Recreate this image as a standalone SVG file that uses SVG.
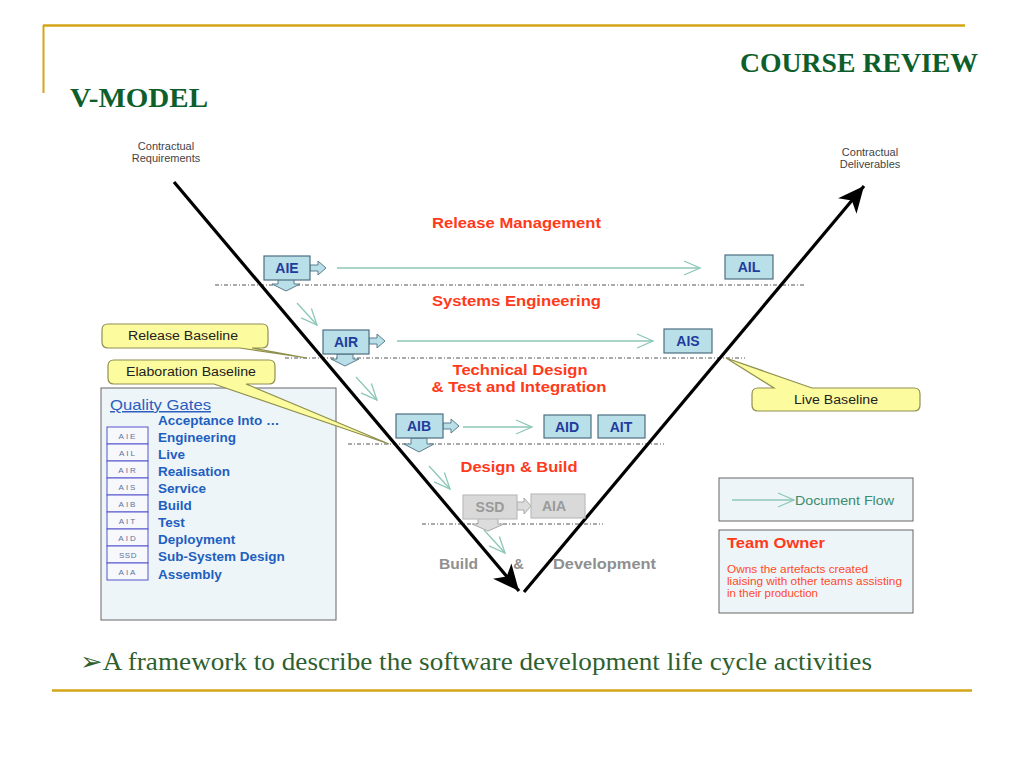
<svg xmlns="http://www.w3.org/2000/svg" width="1024" height="768" viewBox="0 0 1024 768">
<defs>
<style>
.hdr{font-family:"Liberation Serif",serif;font-weight:bold;font-size:27px;fill:#0e5e2c}
.sec{font-family:"Liberation Sans",Arial,sans-serif;font-weight:bold;font-size:14.5px;fill:#ff3a1a;text-anchor:middle}
.node rect.b{fill:#b9dfe9;stroke:#4d6f80;stroke-width:1.2}
.node text{font-family:"Liberation Sans",Arial,sans-serif;font-weight:bold;font-size:14px;fill:#1f3c9c;text-anchor:middle}
.grey rect.b{fill:#d9d9d9;stroke:#bdbdbd}
.grey text{fill:#9a9a9a}
.ba{fill:#b9dfe9;stroke:#5b7d8c;stroke-width:1}
.grey .ba{fill:#dcdcdc;stroke:#aaaaaa}
.flow{stroke:#8cc7b7;stroke-width:1.3;fill:none}
.small{font-family:"Liberation Sans",Arial,sans-serif;font-size:11px;fill:#444;text-anchor:middle}
.call{fill:#fcfc9e;stroke:#8f8f50;stroke-width:1.2}
.callt{font-family:"Liberation Sans",Arial,sans-serif;font-size:12.5px;fill:#222;text-anchor:middle}
.dash{stroke:#555;stroke-width:1;stroke-dasharray:4 2 1 2}
.qg{font-family:"Liberation Sans",Arial,sans-serif;font-weight:bold;font-size:13.5px;fill:#1e5fc0}
.ab rect{fill:#f6f8fb;stroke:#5555cc;stroke-width:1}
.ab text{font-family:"Liberation Sans",Arial,sans-serif;font-size:8px;fill:#6070a0;text-anchor:middle;letter-spacing:2px}
.red{font-family:"Liberation Sans",Arial,sans-serif;font-size:11px;fill:#ff4a2a}
</style>
<marker id="big" markerUnits="userSpaceOnUse" markerWidth="30" markerHeight="30" viewBox="0 0 30 30" refX="26" refY="15" orient="auto">
<path d="M0,3 L26,15 L0,27 L7,15 Z" fill="#000"/>
</marker>
<marker id="open" markerUnits="userSpaceOnUse" markerWidth="20" markerHeight="16" viewBox="0 0 20 16" refX="17" refY="8" orient="auto">
<path d="M1,1 L17,8 L1,15" fill="none" stroke="#8cc7b7" stroke-width="1.3"/>
</marker>
</defs>
<rect width="1024" height="768" fill="#fff"/>

<g id="header">
<line x1="43" y1="25.5" x2="965" y2="25.5" stroke="#d6a419" stroke-width="2.5"/>
<line x1="43.5" y1="25" x2="43.5" y2="93" stroke="#d6a419" stroke-width="2"/>
<text class="hdr" x="740" y="72" textLength="238" lengthAdjust="spacingAndGlyphs">COURSE REVIEW</text>
<text class="hdr" x="70" y="107" textLength="138" lengthAdjust="spacingAndGlyphs">V-MODEL</text>
</g>

<g id="dashes">
<line class="dash" x1="215" y1="285" x2="806" y2="285"/>
<line class="dash" x1="285" y1="358" x2="745" y2="358"/>
<line class="dash" x1="348" y1="444" x2="664" y2="444"/>
<line class="dash" x1="422" y1="524" x2="603" y2="524"/>
</g>

<g id="section-labels">
<text class="sec" x="516.5" y="228" textLength="169" lengthAdjust="spacingAndGlyphs">Release Management</text>
<text class="sec" x="516.5" y="306" textLength="169" lengthAdjust="spacingAndGlyphs">Systems Engineering</text>
<text class="sec" x="520" y="375" textLength="135" lengthAdjust="spacingAndGlyphs">Technical Design</text>
<text class="sec" x="519" y="392" textLength="175" lengthAdjust="spacingAndGlyphs">&amp; Test and Integration</text>
<text class="sec" x="519" y="472" textLength="117" lengthAdjust="spacingAndGlyphs">Design &amp; Build</text>
<text class="sec" x="458.5" y="569" style="fill:#8f8f8f" textLength="39" lengthAdjust="spacingAndGlyphs">Build</text>
<text class="sec" x="518.5" y="569" style="fill:#8f8f8f">&amp;</text>
<text class="sec" x="604.5" y="569" style="fill:#8f8f8f" textLength="103" lengthAdjust="spacingAndGlyphs">Development</text>
</g>

<g id="corner-labels">
<text class="small" x="166" y="150">Contractual</text>
<text class="small" x="166" y="162">Requirements</text>
<text class="small" x="870" y="156">Contractual</text>
<text class="small" x="870" y="168">Deliverables</text>
</g>

<g id="quality-gates">
<rect x="101" y="388" width="235" height="232" fill="#eef5f8" stroke="#666" stroke-width="1"/>
<text x="110" y="410" font-family="Liberation Sans, Arial, sans-serif" font-size="15" fill="#2a5ebf" text-decoration="underline" textLength="101" lengthAdjust="spacingAndGlyphs">Quality Gates</text>
<text class="qg" x="158" y="425">Acceptance Into …</text>
<g class="ab">
<rect x="107" y="427" width="41" height="17"/><text x="128" y="439">AIE</text>
<rect x="107" y="444" width="41" height="17"/><text x="128" y="456">AIL</text>
<rect x="107" y="461" width="41" height="17"/><text x="128" y="473">AIR</text>
<rect x="107" y="478" width="41" height="17"/><text x="128" y="490">AIS</text>
<rect x="107" y="495" width="41" height="17"/><text x="128" y="507">AIB</text>
<rect x="107" y="512" width="41" height="17"/><text x="128" y="524">AIT</text>
<rect x="107" y="529" width="41" height="17"/><text x="128" y="541">AID</text>
<rect x="107" y="546" width="41" height="17"/><text x="128" y="558" style="letter-spacing:0.5px">SSD</text>
<rect x="107" y="563" width="41" height="17"/><text x="128" y="575">AIA</text>
</g>
<text class="qg" x="158" y="442">Engineering</text>
<text class="qg" x="158" y="459">Live</text>
<text class="qg" x="158" y="476">Realisation</text>
<text class="qg" x="158" y="493">Service</text>
<text class="qg" x="158" y="510">Build</text>
<text class="qg" x="158" y="527">Test</text>
<text class="qg" x="158" y="544">Deployment</text>
<text class="qg" x="158" y="561">Sub-System Design</text>
<text class="qg" x="158" y="579">Assembly</text>
</g>

<g id="callout-release">
<path class="call" d="M108,324 H262 Q268,324 268,330 V342 Q268,348 262,348 H252 L307,358 L240,348 H108 Q102,348 102,342 V330 Q102,324 108,324 Z"/>
<text class="callt" x="183" y="340" textLength="110" lengthAdjust="spacingAndGlyphs">Release Baseline</text>
</g>
<g id="callout-elaboration">
<path class="call" d="M114,360 H269 Q275,360 275,366 V378 Q275,384 269,384 H246 L389,444 L214,384 H114 Q108,384 108,378 V366 Q108,360 114,360 Z"/>
<text class="callt" x="191" y="376" textLength="130" lengthAdjust="spacingAndGlyphs">Elaboration Baseline</text>
</g>
<g id="callout-live">
<path class="call" d="M758,388 H774 L726,358 L812,388 H914 Q920,388 920,394 V405 Q920,411 914,411 H758 Q752,411 752,405 V394 Q752,388 758,388 Z"/>
<text class="callt" x="836" y="404" textLength="84" lengthAdjust="spacingAndGlyphs">Live Baseline</text>
</g>

<g id="connectors">
<line class="flow" x1="337" y1="268" x2="700" y2="268" marker-end="url(#open)"/>
<line class="flow" x1="397" y1="341" x2="653" y2="341" marker-end="url(#open)"/>
<line class="flow" x1="463" y1="427" x2="532" y2="427" marker-end="url(#open)"/>
<line class="flow" x1="297" y1="303" x2="317" y2="325" marker-end="url(#open)"/>
<line class="flow" x1="356" y1="377" x2="377" y2="400" marker-end="url(#open)"/>
<line class="flow" x1="429" y1="466" x2="450" y2="489" marker-end="url(#open)"/>
<line class="flow" x1="484" y1="530" x2="505" y2="553" marker-end="url(#open)"/>
<line x1="174" y1="182" x2="519" y2="591" stroke="#000" stroke-width="3.2" marker-end="url(#big)"/>
<line x1="524" y1="592" x2="864" y2="186" stroke="#000" stroke-width="3.2" marker-end="url(#big)"/>
</g>

<g id="node-AIE" class="node">
<path class="ba" d="M278,279 V284 H272 L286,291 L300,284 H294 V279 Z"/>
<path class="ba" d="M310,265 H318 V261 L326,268 L318,275 V271 H310 Z"/>
<rect class="b" x="264" y="256" width="46" height="24"/>
<text x="287" y="273">AIE</text>
</g>
<g id="node-AIR" class="node">
<path class="ba" d="M337,354 V359 H331 L345,366 L359,359 H353 V354 Z"/>
<path class="ba" d="M369,338 H377 V334 L385,341 L377,348 V344 H369 Z"/>
<rect class="b" x="323" y="330" width="46" height="24"/>
<text x="346" y="347">AIR</text>
</g>
<g id="node-AIB" class="node">
<path class="ba" d="M411,438 V444 H404 L419,452 L434,444 H427 V438 Z"/>
<path class="ba" d="M443,423 H451 V419 L459,426 L451,433 V429 H443 Z"/>
<rect class="b" x="396" y="414" width="47" height="24"/>
<text x="419" y="431">AIB</text>
</g>
<g id="node-AIL" class="node">
<rect class="b" x="725" y="255" width="48" height="24"/>
<text x="749" y="272">AIL</text>
</g>
<g id="node-AIS" class="node">
<rect class="b" x="664" y="329" width="48" height="24"/>
<text x="688" y="346">AIS</text>
</g>
<g id="node-AID" class="node">
<rect class="b" x="544" y="415" width="47" height="23"/>
<text x="567" y="432">AID</text>
</g>
<g id="node-AIT" class="node">
<rect class="b" x="598" y="415" width="47" height="23"/>
<text x="621" y="432">AIT</text>
</g>
<g id="node-SSD" class="node grey">
<path class="ba" d="M478,518 V524 H472 L488,531 L504,524 H498 V518 Z"/>
<path class="ba" d="M517,502 H524 V498 L531,506 L524,514 V510 H517 Z"/>
<rect class="b" x="463" y="495" width="54" height="24"/>
<text x="490" y="512">SSD</text>
</g>
<g id="node-AIA" class="node grey">
<rect class="b" x="531" y="494" width="54" height="24"/>
<text x="554" y="511">AIA</text>
</g>

<g id="legend-flow">
<rect x="719" y="478" width="194" height="43" fill="#eef5f8" stroke="#666" stroke-width="1"/>
<line class="flow" x1="732" y1="500" x2="794" y2="500" marker-end="url(#open)"/>
<text x="795" y="505" font-family="Liberation Sans, Arial, sans-serif" font-size="13" fill="#3c8c6c" textLength="99" lengthAdjust="spacingAndGlyphs">Document Flow</text>
</g>
<g id="legend-owner">
<rect x="719" y="530" width="194" height="83" fill="#eef5f8" stroke="#666" stroke-width="1"/>
<text x="727" y="548" font-family="Liberation Sans, Arial, sans-serif" font-size="15" font-weight="bold" fill="#ff3a1a" textLength="98" lengthAdjust="spacingAndGlyphs">Team Owner</text>
<text class="red" x="727" y="573" textLength="141" lengthAdjust="spacingAndGlyphs">Owns the artefacts created</text>
<text class="red" x="727" y="585" textLength="175" lengthAdjust="spacingAndGlyphs">liaising with other teams assisting</text>
<text class="red" x="727" y="597" textLength="91" lengthAdjust="spacingAndGlyphs">in their production</text>
</g>

<g id="footer">
<text x="80" y="670" font-family="Liberation Serif, serif" font-size="25" fill="#2f5f2f" textLength="792" lengthAdjust="spacingAndGlyphs">➢A framework to describe the software development life cycle activities</text>
<line x1="52" y1="690.5" x2="972" y2="690.5" stroke="#d6a419" stroke-width="2.5"/>
</g>
</svg>
